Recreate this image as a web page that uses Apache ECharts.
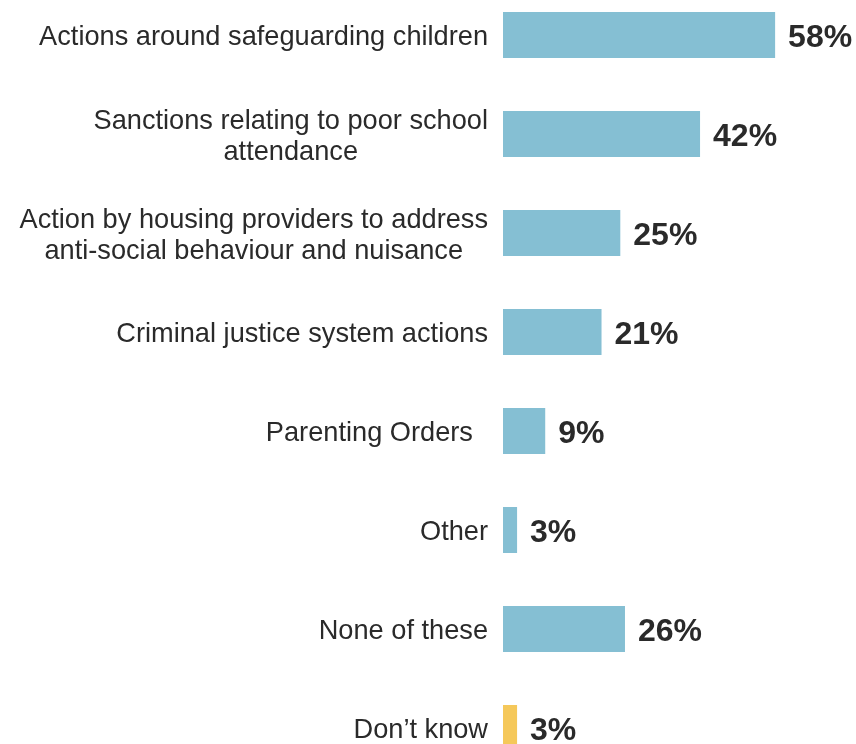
<!DOCTYPE html>
<html>
<head>
<meta charset="utf-8">
<script src="https://cdn.jsdelivr.net/npm/echarts@6/dist/echarts.min.js"></script>
<style>
html,body{margin:0;padding:0;background:#fff}
#chart{width:856px;height:744px}
</style>
</head>
<body>
<div id="chart"></div>
<script>
// answer options, top to bottom
var categories = [
  'Actions around safeguarding children',
  'Sanctions relating to poor school\nattendance',
  'Action by housing providers to address\nanti-social behaviour and nuisance',
  'Criminal justice system actions',
  'Parenting Orders  ',
  'Other',
  'None of these',
  'Don\u2019t know'
];
var values = [58, 42, 25, 21, 9, 3, 26, 3];
var colors = ['#85bfd3', '#85bfd3', '#85bfd3', '#85bfd3', '#85bfd3', '#85bfd3', '#85bfd3', '#f5c85a'];

var chart = echarts.init(document.getElementById('chart'));
chart.setOption({
  animation: false,
  grid: {left: 503, top: -14.5, width: 281.5, height: 792, outerBoundsMode: 'none', containLabel: false},
  xAxis: {
    type: 'value', min: 0, max: 60,
    show: false
  },
  yAxis: {
    type: 'category',
    inverse: true,
    data: categories,
    axisLine: {show: false},
    axisTick: {show: false},
    splitLine: {show: false},
    axisLabel: {
      margin: 15,
      align: 'right',
      padding: [6, 0, 0, 0],
      formatter: function (v) {
        return v.split('\n').map(function (s) { return '{c|' + s + '}'; }).join('\n');
      },
      rich: {
        c: {
          align: 'center',
          fontFamily: 'Liberation Sans, Arial, sans-serif',
          fontSize: 27.2,
          lineHeight: 31,
          color: '#2a2a2a'
        }
      }
    }
  },
  series: [{
    type: 'bar',
    barWidth: 46,
    data: values.map(function (v, i) {
      return {value: v, itemStyle: {color: colors[i]}};
    }),
    label: {
      show: true,
      position: 'right',
      distance: 13,
      offset: [0, 3],
      formatter: '{c}%',
      fontFamily: 'Liberation Sans, Arial, sans-serif',
      fontWeight: 'bold',
      fontSize: 32,
      color: '#2a2a2a'
    }
  }]
});
</script>
</body>
</html>
